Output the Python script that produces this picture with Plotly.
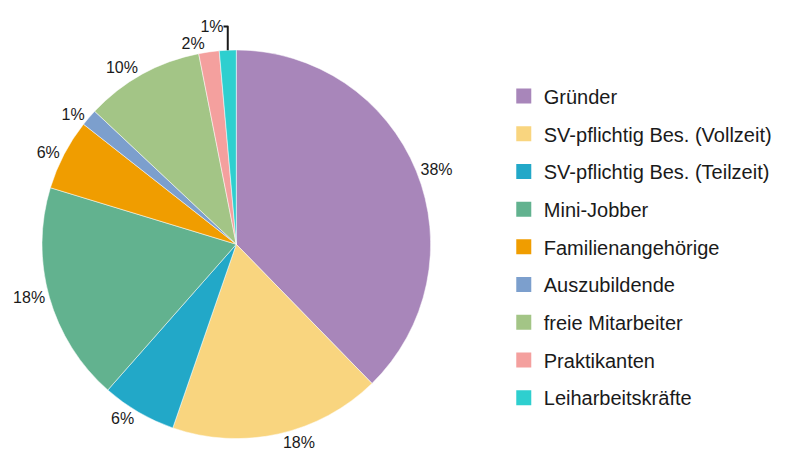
import plotly.graph_objects as go

categories = ["Gründer", "SV-pflichtig Bes. (Vollzeit)", "SV-pflichtig Bes. (Teilzeit)",
              "Mini-Jobber", "Familienangehörige", "Auszubildende", "freie Mitarbeiter",
              "Praktikanten", "Leiharbeitskräfte"]
values = [37.7, 17.6, 6.2, 18.2, 5.9, 1.4, 9.9, 1.7, 1.4]
colors = ["#A886BA", "#F9D57F", "#22A8C8", "#62B28F", "#F09D00", "#7C9FCD",
          "#A3C586", "#F4A09E", "#2ECFCF"]

fig = go.Figure()
fig.add_trace(go.Pie(
    labels=categories, values=values, sort=False, direction="clockwise", rotation=0,
    marker=dict(colors=colors, line=dict(color="white", width=0.5)),
    textposition="outside", texttemplate="%{percent:.0%}",
    textfont=dict(family="Liberation Sans", size=16, color="#1a1a1a"),
    showlegend=False, domain=dict(x=[0.0, 0.51], y=[0.065, 1.0]),
    hoverinfo="label+percent",
))
for i, (c, col) in enumerate(zip(categories, colors)):
    fig.add_trace(go.Scatter(
        x=[None], y=[None], mode="markers", name=c, legendgroup=str(i),
        marker=dict(symbol="square", size=15, color=col),
    ))

fig.update_layout(
    width=796, height=461, margin=dict(l=0, r=0, t=0, b=0),
    paper_bgcolor="white", plot_bgcolor="white",
    xaxis=dict(visible=False), yaxis=dict(visible=False),
    legend=dict(x=0.606, y=0.526, yanchor="middle", xanchor="left",
                font=dict(family="Liberation Sans", size=20, color="#1a1a1a"),
                traceorder="grouped", tracegroupgap=8.7, itemsizing="trace"),
)
fig.write_html("out.html")
